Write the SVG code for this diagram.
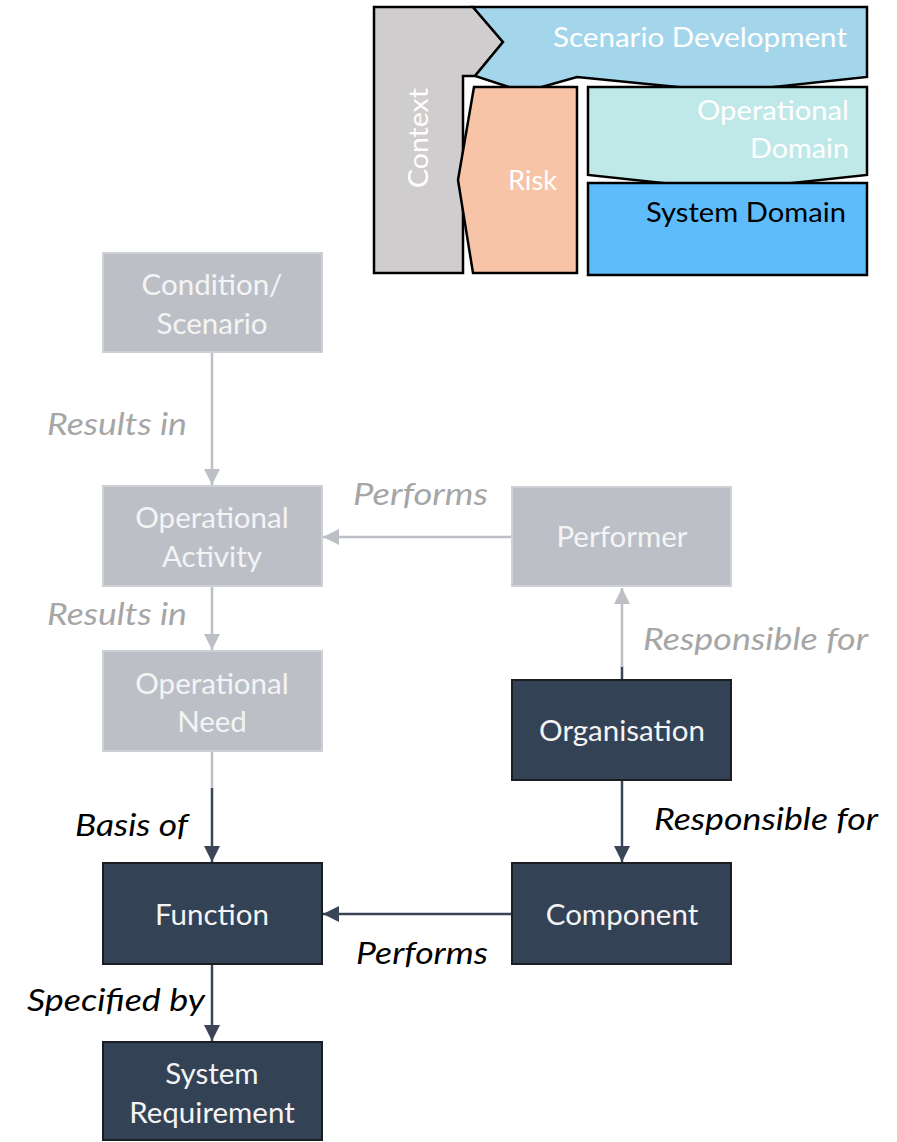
<svg xmlns="http://www.w3.org/2000/svg" width="897" height="1142" viewBox="0 0 897 1142">
  <style>
    text { font-family: Lato, "Open Sans", "Liberation Sans", sans-serif; }
    .lg { stroke: #000; stroke-width: 2.5; stroke-linejoin: miter; }
    .lgt { font-size: 27px; fill: #fff; }
    .ng rect { fill: #BCC0C6; stroke: #CDD0D4; stroke-width: 2; }
    .nd rect { fill: #344256; stroke: #1A1D22; stroke-width: 2; }
    .nt { font-size: 29.5px; fill: #F4F4F4; text-anchor: middle; }
    .cg { stroke: #BCC0C6; stroke-width: 2.5; fill: none; }
    .cd { stroke: #3A4658; stroke-width: 2.5; fill: none; }
    .lbg { font-size: 31px; font-style: italic; fill: #A6A6A6; }
    .lbd { font-size: 31px; font-style: italic; fill: #000; }
  </style>
  <defs>
    <marker id="ag" viewBox="0 0 16 16" refX="16" refY="8" markerWidth="16" markerHeight="16" markerUnits="userSpaceOnUse" orient="auto">
      <path d="M0,0 L16,8 L0,16 Z" fill="#BCC0C6"/>
    </marker>
    <marker id="ad" viewBox="0 0 16 16" refX="16" refY="8" markerWidth="16" markerHeight="16" markerUnits="userSpaceOnUse" orient="auto">
      <path d="M0,0 L16,8 L0,16 Z" fill="#3A4658"/>
    </marker>
  </defs>

  <!-- Legend: domain layers -->
  <g id="legend">
    <polygon class="lg" fill="#CFCDCD" points="374,7 473,7 503,42 475,76 463,76 463,273 374,273"/>
    <polygon class="lg" fill="#A4D6EB" points="473,7 867,7 867,77 728,92 577,77 524,92 475,76 503,42"/>
    <polygon class="lg" fill="#F8C4A8" points="474,87 577,87 577,273 473,273 458,180"/>
    <polygon class="lg" fill="#BFE9E8" points="588,87 867,87 867,175 728,190 588,175"/>
    <rect class="lg" fill="#5EBCFC" x="588" y="183" width="279" height="92"/>
    <text class="lgt" x="553" y="47" textLength="294" lengthAdjust="spacingAndGlyphs">Scenario Development</text>
    <text class="lgt" x="697" y="120" textLength="152" lengthAdjust="spacingAndGlyphs">Operational</text>
    <text class="lgt" x="750" y="158" textLength="99" lengthAdjust="spacingAndGlyphs">Domain</text>
    <text class="lgt" x="646" y="222" textLength="200" lengthAdjust="spacingAndGlyphs" style="fill:#000">System Domain</text>
    <text class="lgt" x="508" y="190" textLength="49" lengthAdjust="spacingAndGlyphs">Risk</text>
    <text class="lgt" transform="translate(428,188) rotate(-90)" x="0" y="0" textLength="100" lengthAdjust="spacingAndGlyphs">Context</text>
  </g>

  <!-- Connectors -->
  <g id="connectors">
    <line class="cg" x1="212" y1="352" x2="212" y2="485" marker-end="url(#ag)"/>
    <line class="cg" x1="212" y1="586" x2="212" y2="650" marker-end="url(#ag)"/>
    <line class="cg" x1="212" y1="751" x2="212" y2="789"/>
    <line class="cd" x1="212" y1="788" x2="212" y2="862" marker-end="url(#ad)"/>
    <line class="cg" x1="512" y1="537" x2="323" y2="537" marker-end="url(#ag)"/>
    <line class="cd" x1="622" y1="680" x2="622" y2="666"/>
    <line class="cg" x1="622" y1="667" x2="622" y2="588" marker-end="url(#ag)"/>
    <line class="cd" x1="622" y1="780" x2="622" y2="862" marker-end="url(#ad)"/>
    <line class="cd" x1="512" y1="914" x2="323" y2="914" marker-end="url(#ad)"/>
    <line class="cd" x1="212" y1="964" x2="212" y2="1041" marker-end="url(#ad)"/>

    <text class="lbg" x="47" y="435" textLength="140" lengthAdjust="spacingAndGlyphs">Results in</text>
    <text class="lbg" x="47" y="625" textLength="140" lengthAdjust="spacingAndGlyphs">Results in</text>
    <text class="lbg" x="353" y="505" textLength="135" lengthAdjust="spacingAndGlyphs">Performs</text>
    <text class="lbg" x="643" y="650" textLength="225" lengthAdjust="spacingAndGlyphs">Responsible for</text>
    <text class="lbd" x="75" y="836" textLength="113" lengthAdjust="spacingAndGlyphs">Basis of</text>
    <text class="lbd" x="654" y="830" textLength="224" lengthAdjust="spacingAndGlyphs">Responsible for</text>
    <text class="lbd" x="356" y="964" textLength="132" lengthAdjust="spacingAndGlyphs">Performs</text>
    <text class="lbd" x="27" y="1011" textLength="178" lengthAdjust="spacingAndGlyphs">Specified by</text>
  </g>

  <!-- Nodes -->
  <g id="condition-scenario" class="ng">
    <rect x="103" y="253" width="219" height="99"/>
    <text class="nt" x="212" y="295">Condition/</text>
    <text class="nt" x="212" y="334">Scenario</text>
  </g>
  <g id="operational-activity" class="ng">
    <rect x="103" y="486" width="219" height="100"/>
    <text class="nt" x="212" y="528">Operational</text>
    <text class="nt" x="212" y="567">Activity</text>
  </g>
  <g id="operational-need" class="ng">
    <rect x="103" y="651" width="219" height="100"/>
    <text class="nt" x="212" y="694">Operational</text>
    <text class="nt" x="212" y="732">Need</text>
  </g>
  <g id="performer" class="ng">
    <rect x="512" y="487" width="219" height="99"/>
    <text class="nt" x="622" y="547">Performer</text>
  </g>
  <g id="organisation" class="nd">
    <rect x="512" y="680" width="219" height="100"/>
    <text class="nt" x="622" y="741">Organisation</text>
  </g>
  <g id="function" class="nd">
    <rect x="103" y="863" width="219" height="101"/>
    <text class="nt" x="212" y="925">Function</text>
  </g>
  <g id="component" class="nd">
    <rect x="512" y="863" width="219" height="101"/>
    <text class="nt" x="622" y="925">Component</text>
  </g>
  <g id="system-requirement" class="nd">
    <rect x="103" y="1042" width="219" height="98"/>
    <text class="nt" x="212" y="1084">System</text>
    <text class="nt" x="212" y="1123">Requirement</text>
  </g>
</svg>
